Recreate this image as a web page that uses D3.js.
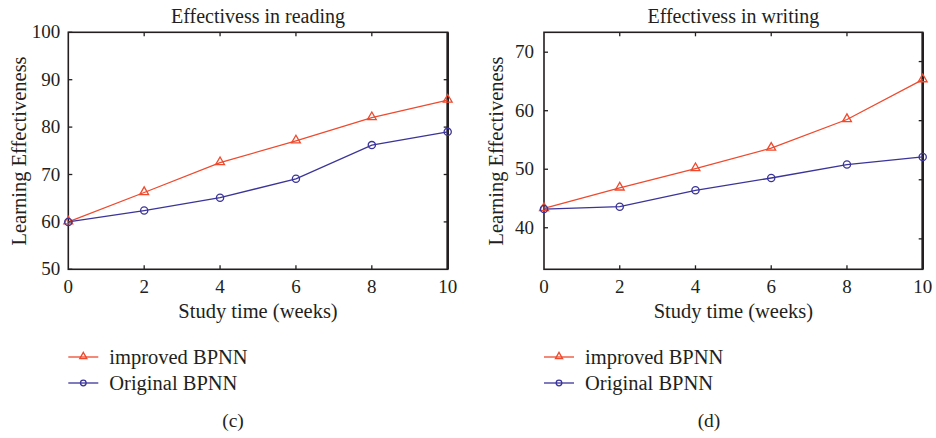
<!DOCTYPE html>
<html>
<head>
<meta charset="utf-8">
<script src="https://cdn.jsdelivr.net/npm/d3@7"></script>
<style>
  body { margin: 0; background: #fff; }
  text { font-family: "Liberation Serif", "DejaVu Serif", serif; fill: #231f20; }
</style>
</head>
<body>
<script>
// study weeks
var weeks = [0, 2, 4, 6, 8, 10];

// reading panel
var readImproved = [60, 66.2, 72.5, 77.1, 82.0, 85.7];
var readOriginal = [60, 62.4, 65.1, 69.1, 76.2, 79.0];
var readTicks = [50, 60, 70, 80, 90, 100];

// writing panel
var writeImproved = [43.3, 46.8, 50.1, 53.6, 58.5, 65.3];
var writeOriginal = [43.2, 43.6, 46.4, 48.5, 50.8, 52.1];
var writeTicks = [40, 50, 60, 70];
var writeRightTicks = [38.1, 48.2, 58.3, 68.4];

var seriesNames = ["improved BPNN", "Original BPNN"];
var red = "#ef4a2d", blue = "#3b3499";

var svg = d3.select("body").append("svg")
  .attr("width", 936).attr("height", 438);

function panel(opt) {
  var x = d3.scaleLinear().domain([0, 10]).range([opt.left, opt.right]);
  var y = d3.scaleLinear().domain(opt.yDomain).range([269.3, 32.3]);
  var g = svg.append("g");

  // ticks (inside, on all sides)
  weeks.forEach(function(w) {
    if (w === 0 || w === 10) return;
    g.append("line").attr("x1", x(w)).attr("x2", x(w))
      .attr("y1", y.range()[0]).attr("y2", y.range()[0] - 4)
      .attr("stroke", "#231f20").attr("stroke-width", 1.3);
    g.append("line").attr("x1", x(w)).attr("x2", x(w))
      .attr("y1", y.range()[1]).attr("y2", y.range()[1] + 4)
      .attr("stroke", "#231f20").attr("stroke-width", 1.3);
  });
  opt.yTicks.forEach(function(t) {
    g.append("line").attr("x1", opt.left).attr("x2", opt.left + 4)
      .attr("y1", y(t)).attr("y2", y(t))
      .attr("stroke", "#231f20").attr("stroke-width", 1.3);
  });
  opt.rightTicks.forEach(function(t) {
    g.append("line").attr("x1", opt.right).attr("x2", opt.right - 4)
      .attr("y1", y(t)).attr("y2", y(t))
      .attr("stroke", "#231f20").attr("stroke-width", 1.3);
  });

  // frame
  g.append("rect")
    .attr("x", opt.left).attr("y", y.range()[1])
    .attr("width", opt.right - opt.left).attr("height", y.range()[0] - y.range()[1])
    .attr("fill", "none").attr("stroke", "#231f20").attr("stroke-width", 1.6);
  g.append("line").attr("x1", opt.right).attr("x2", opt.right)
    .attr("y1", y.range()[1]).attr("y2", y.range()[0])
    .attr("stroke", "#231f20").attr("stroke-width", 2.6);

  // tick labels
  weeks.forEach(function(w) {
    g.append("text").attr("x", x(w)).attr("y", 293)
      .attr("text-anchor", "middle").style("font-size", "19px").text(w);
  });
  opt.yTicks.forEach(function(t) {
    g.append("text").attr("x", opt.left - opt.yGap).attr("y", y(t) + 6)
      .attr("text-anchor", "end").style("font-size", "19px").text(t);
  });

  // titles
  g.append("text").attr("x", (opt.left + opt.right) / 2).attr("y", 23)
    .attr("text-anchor", "middle").style("font-size", "20px").text(opt.title);
  g.append("text").attr("x", (opt.left + opt.right) / 2).attr("y", 318)
    .attr("text-anchor", "middle").style("font-size", "20.5px").text("Study time (weeks)");
  g.append("text")
    .attr("transform", "translate(" + opt.ylabX + ",151) rotate(-90)")
    .attr("text-anchor", "middle").style("font-size", "20.5px").text("Learning Effectiveness");

  var line = d3.line().x(function(d, i) { return x(weeks[i]); }).y(function(d) { return y(d); });
  var tri = d3.symbol().type(d3.symbolTriangle).size(34);

  g.append("path").datum(opt.improved).attr("d", line)
    .attr("fill", "none").attr("stroke", red).attr("stroke-width", 1.3);
  g.append("path").datum(opt.original).attr("d", line)
    .attr("fill", "none").attr("stroke", blue).attr("stroke-width", 1.3);

  g.selectAll(".tri").data(opt.improved).enter().append("path")
    .attr("d", tri)
    .attr("transform", function(d, i) { return "translate(" + x(weeks[i]) + "," + (y(d) - 0.5) + ")"; })
    .attr("fill", "none").attr("stroke", red).attr("stroke-width", 1.3);
  g.selectAll(".circ").data(opt.original).enter().append("circle")
    .attr("cx", function(d, i) { return x(weeks[i]); })
    .attr("cy", function(d) { return y(d); })
    .attr("r", 3.6)
    .attr("fill", "none").attr("stroke", blue).attr("stroke-width", 1.3);

  // legend
  var lx = opt.left;
  [[red, 0], [blue, 1]].forEach(function(s) {
    var ly = 357 + s[1] * 26;
    g.append("line").attr("x1", lx).attr("x2", lx + 30)
      .attr("y1", ly).attr("y2", ly).attr("stroke", s[0]).attr("stroke-width", 1.3);
    if (s[1] === 0) {
      g.append("path").attr("d", d3.symbol().type(d3.symbolTriangle).size(22))
        .attr("transform", "translate(" + (lx + 15) + "," + (ly - 0.5) + ")")
        .attr("fill", "none").attr("stroke", red).attr("stroke-width", 1.3);
    } else {
      g.append("circle").attr("cx", lx + 15).attr("cy", ly).attr("r", 2.8)
        .attr("fill", "none").attr("stroke", blue).attr("stroke-width", 1.3);
    }
    g.append("text").attr("x", lx + 41).attr("y", ly + 7)
      .style("font-size", "20.5px").text(seriesNames[s[1]]);
  });

  g.append("text").attr("x", opt.capX).attr("y", 427)
    .attr("text-anchor", "middle").style("font-size", "19.5px").text(opt.caption);
}

panel({
  left: 68.3, right: 447.7, yDomain: [50, 100], yTicks: readTicks,
  rightTicks: [60, 70, 80, 90], yGap: 8,
  improved: readImproved, original: readOriginal,
  title: "Effectivess in reading", ylabX: 26, capX: 233, caption: "(c)"
});
panel({
  left: 544, right: 922.7, yDomain: [32.9, 73.4], yTicks: writeTicks,
  rightTicks: writeRightTicks, yGap: 10,
  improved: writeImproved, original: writeOriginal,
  title: "Effectivess in writing", ylabX: 503, capX: 709, caption: "(d)"
});
</script>
</body>
</html>
